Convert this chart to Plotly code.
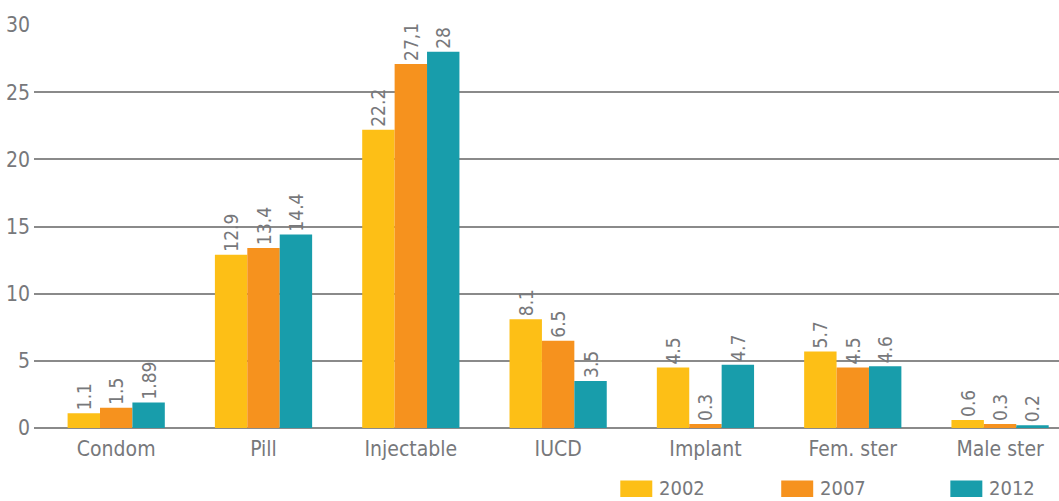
import plotly.graph_objects as go

# Contraceptive method mix by survey year (%)
categories = ["Condom", "Pill", "Injectable", "IUCD", "Implant", "Fem. ster", "Male ster"]
years = ["2002", "2007", "2012"]
values_2002 = [1.1, 12.9, 22.2, 8.1, 4.5, 5.7, 0.6]
values_2007 = [1.5, 13.4, 27.1, 6.5, 0.3, 4.5, 0.3]
values_2012 = [1.89, 14.4, 28, 3.5, 4.7, 4.6, 0.2]
labels_2002 = ["1.1", "12.9", "22.2", "8.1", "4.5", "5.7", "0.6"]
labels_2007 = ["1.5", "13.4", "27,1", "6.5", "0.3", "4.5", "0.3"]
labels_2012 = ["1.89", "14.4", "28", "3.5", "4.7", "4.6", "0.2"]
y_ticks = [0, 5, 10, 15, 20, 25, 30]

colors = ["#FDBF16", "#F6921E", "#189DAB"]
series = [values_2002, values_2007, values_2012]
labels = [labels_2002, labels_2007, labels_2012]

FONT = "DejaVu Sans Condensed, Liberation Sans Narrow, sans-serif"
GRAY = "#77787b"

fig = go.Figure()
for name, vals, txt, col in zip(years, series, labels, colors):
    fig.add_trace(go.Bar(
        name=name, x=categories, y=vals, marker=dict(color=col, line=dict(width=0)),
        text=txt, textposition="outside", textangle=-90,
        textfont=dict(family=FONT, size=19, color=GRAY),
        constraintext="none", cliponaxis=False, showlegend=False,
    ))

# Legend drawn as wide swatches below the plot
legend_x = [0.572, 0.729, 0.894]
for name, col, lx in zip(years, colors, legend_x):
    fig.add_shape(type="rect", xref="paper", yref="paper",
                  x0=lx, x1=lx + 0.0312, y0=-0.130, y1=-0.171,
                  fillcolor=col, line=dict(width=0))
    fig.add_annotation(x=lx + 0.036, y=-0.148, xref="paper", yref="paper",
                       text=name, showarrow=False, xanchor="left", yanchor="middle",
                       font=dict(family=FONT, size=20, color=GRAY))

fig.update_layout(
    width=1059, height=501,
    margin=dict(l=34, r=0, t=25, b=73),
    plot_bgcolor="white", paper_bgcolor="white",
    barmode="group", bargap=0.34, bargroupgap=0,
    font=dict(family=FONT, size=21, color=GRAY),
    xaxis=dict(range=[-0.558, 6.40], showgrid=False, showline=False, ticks="",
               ticklabelstandoff=6,
               tickfont=dict(family=FONT, size=21, color=GRAY)),
    yaxis=dict(range=[0, 30], tickvals=y_ticks, showgrid=True, gridcolor="#8a8a8a",
               gridwidth=1.5, zeroline=True, zerolinecolor="#8a8a8a", zerolinewidth=1.5,
               showline=False, ticks="", ticklabelstandoff=3,
               tickfont=dict(family=FONT, size=21, color=GRAY)),
)

fig.write_html("out.html")
